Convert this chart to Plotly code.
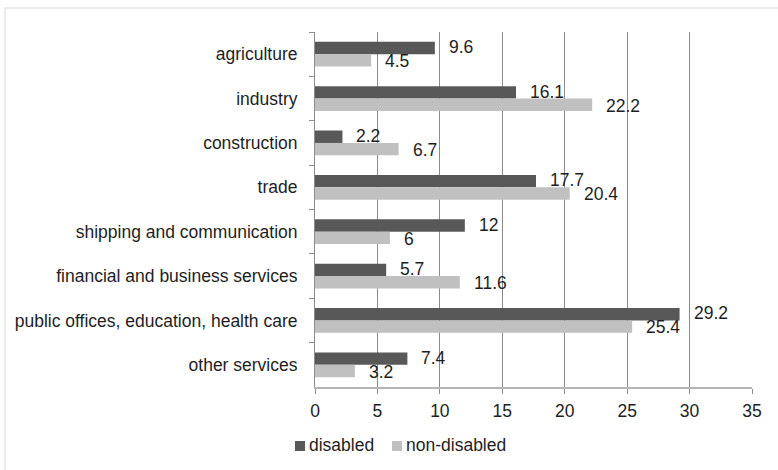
import plotly.graph_objects as go

categories = ["agriculture", "industry", "construction", "trade",
              "shipping and communication", "financial and business services",
              "public offices, education, health care", "other services"]
disabled = [9.6, 16.1, 2.2, 17.7, 12, 5.7, 29.2, 7.4]
non_disabled = [4.5, 22.2, 6.7, 20.4, 6, 11.6, 25.4, 3.2]
series_names = ["disabled", "non-disabled"]
series_colors = ["#585858", "#c0c0c0"]
x_ticks = [0, 5, 10, 15, 20, 25, 30, 35]

W, H = 778, 470
ML, MR, MT, MB = 315, 26, 32, 83
PW, PH = W - ML - MR, H - MT - MB
FONT = "Liberation Sans, Arial, sans-serif"
FS = 17.5
TXT = "#1e1e1e"


def px(x):
    return (x - ML) / PW


def py(y):
    return (MT + PH - y) / PH


fig = go.Figure()
for name, vals, col in zip(series_names, [disabled, non_disabled], series_colors):
    fig.add_trace(go.Bar(y=categories, x=vals, orientation="h", name=name,
                         marker=dict(color=col, line=dict(width=0)), showlegend=False,
                         hoverinfo="skip"))

ann = []
for vals, ys in [(disabled, 7), (non_disabled, -7)]:
    for c, v in zip(categories, vals):
        ann.append(dict(x=v, y=c, text=f"{v:g}", xanchor="left", yanchor="middle",
                        xshift=12, yshift=ys, showarrow=False,
                        font=dict(family=FONT, size=FS, color=TXT)))

# manual legend (Excel style: small square close to the text)
shapes = [dict(type="rect", xref="paper", yref="paper",
               x0=px(5), x1=px(800), y0=py(480), y1=py(8),
               line=dict(color="#d9d9d9", width=1), layer="below")]
leg_x = [295, 392]
for lx, name, col in zip(leg_x, series_names, series_colors):
    shapes.append(dict(type="rect", xref="paper", yref="paper",
                       x0=px(lx), x1=px(lx + 10), y0=py(451), y1=py(441),
                       fillcolor=col, line=dict(width=0)))
    ann.append(dict(xref="paper", yref="paper", x=px(lx + 12), y=py(445),
                    text=name, xanchor="left", yanchor="middle", showarrow=False,
                    font=dict(family=FONT, size=FS, color=TXT)))

fig.update_layout(
    width=W, height=H,
    margin=dict(l=ML, r=MR, t=MT, b=MB, autoexpand=False),
    paper_bgcolor="white", plot_bgcolor="white",
    barmode="group", bargap=0.44, bargroupgap=0,
    font=dict(family=FONT, size=FS, color=TXT),
    annotations=ann, shapes=shapes,
    showlegend=False,
)
fig.update_xaxes(range=[0, 35], tickvals=x_ticks, showgrid=True, gridcolor="#8c8c8c",
                 gridwidth=1, showline=True, linecolor="#b4b4b4", linewidth=2,
                 ticks="outside", ticklen=5, tickcolor="#8c8c8c", zeroline=False,
                 tickfont=dict(family=FONT, size=FS, color=TXT), ticklabelstandoff=2,
                 automargin=False)
fig.update_yaxes(autorange="reversed", showline=True, linecolor="#8c8c8c", linewidth=1,
                 ticks="outside", ticklen=5, tickcolor="#8c8c8c", tickson="boundaries",
                 showgrid=False, tickfont=dict(family=FONT, size=FS, color=TXT),
                 ticklabelstandoff=13, automargin=False)

fig.write_html("out.html", config={"displayModeBar": False},
               post_script="document.body.style.margin='0';")
